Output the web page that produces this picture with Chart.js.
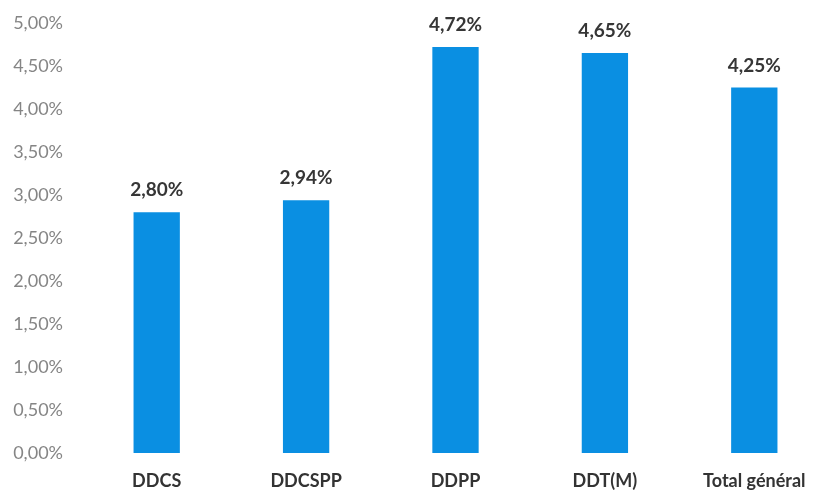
<!DOCTYPE html>
<html>
<head>
<meta charset="utf-8">
<script src="https://cdn.jsdelivr.net/npm/chart.js@4"></script>
<style>
  html, body { margin: 0; padding: 0; background: #fff; overflow: hidden; }
  #wrap { position: relative; width: 830px; height: 493px; }
</style>
</head>
<body>
<div id="wrap"><canvas id="chart"></canvas></div>
<script>
var categories = ['DDCS', 'DDCSPP', 'DDPP', 'DDT(M)', 'Total général'];
var rates = [2.80, 2.94, 4.72, 4.65, 4.25];

var BAR_COLOR = '#0A8FE2';

function pct(v) {
  return v.toFixed(2).replace('.', ',') + '%';
}

// draws the value above each bar
var valueLabels = {
  id: 'valueLabels',
  afterDatasetsDraw: function(chart) {
    var ctx = chart.ctx;
    var meta = chart.getDatasetMeta(0);
    ctx.save();
    ctx.font = 'bold 19px Lato';
    ctx.fillStyle = '#363636';
    ctx.textAlign = 'center';
    ctx.textBaseline = 'alphabetic';
    meta.data.forEach(function(bar, i) {
      ctx.fillText(pct(rates[i]), bar.x, bar.y - 16);
    });
    ctx.restore();
  }
};

new Chart(document.getElementById('chart'), {
  type: 'bar',
  data: {
    labels: categories,
    datasets: [{
      data: rates,
      backgroundColor: BAR_COLOR,
      borderWidth: 0,
      barPercentage: 0.62,
      categoryPercentage: 0.5
    }]
  },
  options: {
    responsive: true,
    maintainAspectRatio: false,
    animation: false,
    layout: { padding: { top: 23, right: 1, left: 0, bottom: 0 } },
    plugins: { legend: { display: false }, tooltip: { enabled: false } },
    scales: {
      x: {
        grid: { display: false, drawTicks: false },
        border: { display: false },
        ticks: { color: '#333', font: { family: 'Lato', size: 18, weight: 'bold' }, padding: 17, maxRotation: 0 },
        afterFit: function(axis) { axis.height = 40; }
      },
      y: {
        min: 0, max: 5,
        grid: { display: false, drawTicks: false },
        border: { display: false },
        ticks: {
          stepSize: 0.5,
          color: '#858585',
          font: { family: 'Lato', size: 18 },
          padding: 19,
          callback: function(v) { return pct(v); }
        },
        afterFit: function(axis) {
          axis.width = 82;
          axis.paddingTop = 0;
          axis.paddingBottom = 0;
        }
      }
    }
  },
  plugins: [valueLabels]
});
</script>
</body>
</html>
